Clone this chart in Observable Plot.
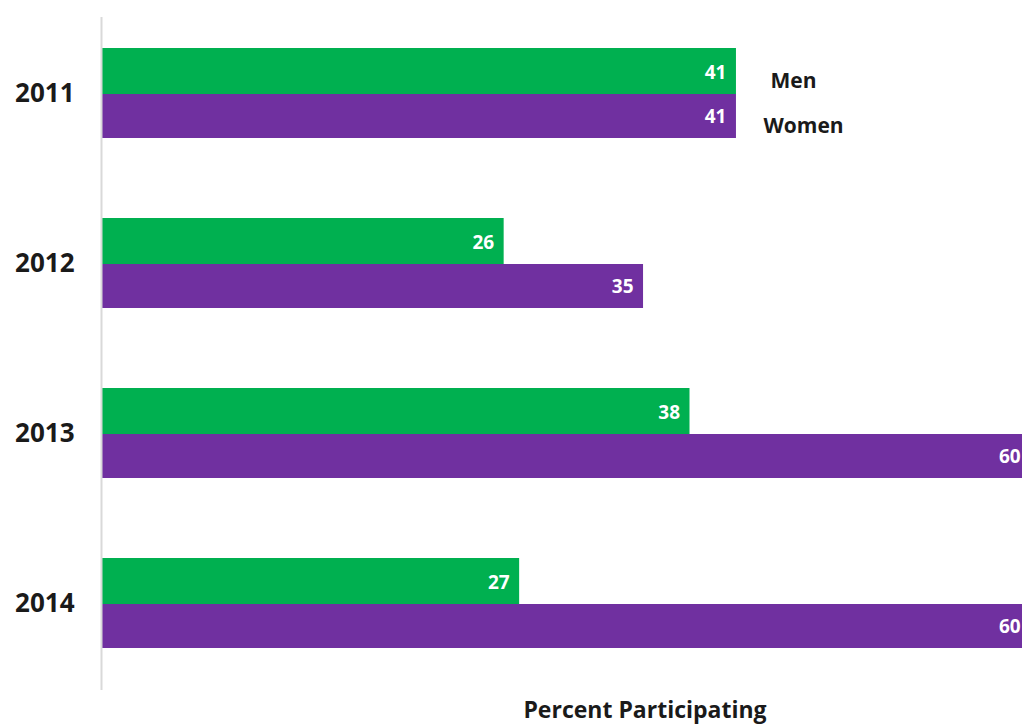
<!DOCTYPE html>
<html>
<head>
<meta charset="utf-8">
<script src="https://cdn.jsdelivr.net/npm/d3@7"></script>
<script src="https://cdn.jsdelivr.net/npm/@observablehq/plot@0.6"></script>
<style>
  html, body { margin: 0; padding: 0; background: #ffffff; overflow: hidden; }
  #chart svg { display: block; }
</style>
</head>
<body>
<div id="chart"></div>
<script>
const years = ["2011", "2012", "2013", "2014"];
const menValues = [41, 26, 38, 27];
const womenValues = [41, 35, 60, 60];
const seriesNames = ["Men", "Women"];
const axisTitle = "Percent Participating";

const men = years.map((year, i) => ({year, series: seriesNames[0], value: menValues[i]}));
const women = years.map((year, i) => ({year, series: seriesNames[1], value: womenValues[i]}));

const GREEN = "#00b050";
const PURPLE = "#7030a0";
const FONT = "'Open Sans', Lato, sans-serif";

const chart = Plot.plot({
  width: 1022,
  height: 726,
  marginLeft: 101,
  marginRight: 0,
  marginTop: 17,
  marginBottom: 36,
  style: {fontFamily: FONT, background: "#ffffff", overflow: "hidden"},
  x: {domain: [0, 59.47], axis: null},
  y: {domain: years, range: [47, 649], paddingInner: 0.4728, paddingOuter: 0, axis: null},
  marks: [
    Plot.barX(men, {x: "value", y: "year", fill: GREEN, insetBottom: 44, clip: true}),
    Plot.barX(women, {x: "value", y: "year", fill: PURPLE, insetTop: 46, clip: true}),
    Plot.ruleX([0], {stroke: "#d9d9d9", strokeWidth: 2}),
    Plot.axisY({tickSize: 0, tickPadding: 27, fontSize: 26, fontWeight: "bold", fill: "#1a1a1a", label: null}),
    Plot.text(men, {x: "value", y: "year", text: d => String(d.value), textAnchor: "end", dx: -10, dy: -21,
      fill: "#ffffff", fontSize: 19, fontWeight: "bold"}),
    Plot.text(women, {x: "value", y: "year", text: d => String(d.value), textAnchor: "end", dx: -10, dy: 23,
      fill: "#ffffff", fontSize: 19, fontWeight: "bold"}),
    Plot.text(men.slice(0, 1), {x: "value", y: "year", text: "series", textAnchor: "start", dx: 34, dy: -12,
      fill: "#1a1a1a", fontSize: 21, fontWeight: "bold"}),
    Plot.text(women.slice(0, 1), {x: "value", y: "year", text: "series", textAnchor: "start", dx: 27, dy: 33,
      fill: "#1a1a1a", fontSize: 21, fontWeight: "bold"}),
    Plot.text([axisTitle], {frameAnchor: "bottom", dx: 83, dy: 27, fill: "#1a1a1a", fontSize: 23, fontWeight: "bold"})
  ]
});
document.getElementById("chart").appendChild(chart);
</script>
</body>
</html>
